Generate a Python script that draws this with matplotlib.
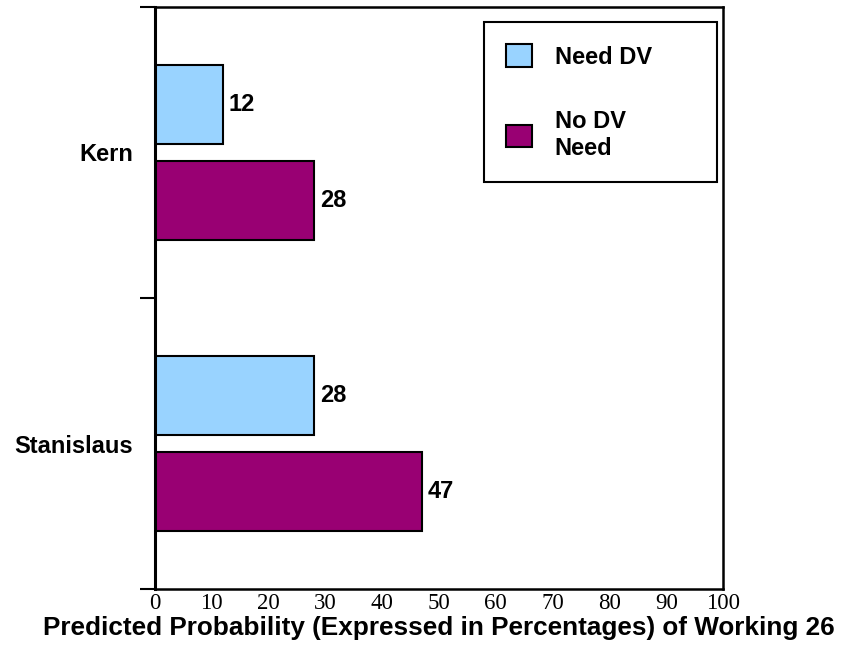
import matplotlib.pyplot as plt
import numpy as np
from matplotlib.patches import Patch

counties = ['Kern', 'Stanislaus']
need_dv = [12, 28]
no_dv_need = [28, 47]
series_labels = ['Need DV', 'No DV\nNeed']
x_ticks = [0, 10, 20, 30, 40, 50, 60, 70, 80, 90, 100]
x_label = 'Predicted Probability (Expressed in Percentages) of Working 26'

need_color = '#99D3FF'
no_need_color = '#990073'
sans = 'Liberation Sans'
serif = 'Liberation Serif'
label_size = 17

fig = plt.figure(figsize=(8.52, 6.66), dpi=100)
ax = fig.add_axes([0.1819, 0.1156, 0.6667, 0.8739])

pos = np.arange(len(counties))
bar_h = 0.27
offset = 0.165

ax.barh(pos - offset, need_dv, height=bar_h, color=need_color,
        edgecolor='black', linewidth=1.5)
ax.barh(pos + offset, no_dv_need, height=bar_h, color=no_need_color,
        edgecolor='black', linewidth=1.5)

# value labels just past the end of each bar
for p, v in zip(pos - offset, need_dv):
    ax.text(v + 1.0, p, f'{v}', va='center', ha='left', family=sans,
            fontweight='bold', fontsize=label_size)
for p, v in zip(pos + offset, no_dv_need):
    ax.text(v + 1.0, p, f'{v}', va='center', ha='left', family=sans,
            fontweight='bold', fontsize=label_size)

ax.set_xlim(0, 100)
ax.set_ylim(len(counties) - 0.5, -0.5)

ax.set_xticks(x_ticks)
ax.set_xticklabels([str(t) for t in x_ticks], family=serif, fontsize=16.5)
ax.tick_params(axis='x', length=0, pad=3)
ax.set_xlabel(x_label, family=sans, fontweight='bold', fontsize=18.8,
              labelpad=1)

# category boundaries get tick marks, names sit between them
ax.set_yticks(np.arange(-0.5, len(counties) + 0.5, 1.0))
ax.set_yticklabels([])
ax.tick_params(axis='y', which='major', length=11, width=1.5, direction='out')
ax.set_yticks(pos, minor=True)
ax.set_yticklabels(counties, minor=True, family=sans, fontweight='bold',
                   fontsize=label_size)
ax.tick_params(axis='y', which='minor', length=0, pad=16)

for side in ['top', 'right', 'bottom']:
    ax.spines[side].set_linewidth(1.8)
ax.spines['left'].set_linewidth(2.2)

handles = [Patch(facecolor=need_color, edgecolor='black', linewidth=1.5),
           Patch(facecolor=no_need_color, edgecolor='black', linewidth=1.5)]
leg = ax.legend(handles, series_labels, loc='upper left', mode='expand',
                bbox_to_anchor=(484 / 852, 1 - 182 / 666, 233 / 852, 160 / 666),
                bbox_transform=fig.transFigure,
                prop={'family': sans, 'weight': 'bold', 'size': label_size},
                frameon=True, fancybox=False, framealpha=1,
                handlelength=1.1, handleheight=1.1, handletextpad=0.95,
                labelspacing=1.75, borderpad=0.95, borderaxespad=0)
leg.get_frame().set_edgecolor('black')
leg.get_frame().set_linewidth(1.5)

fig.savefig('out.png', dpi=100)
